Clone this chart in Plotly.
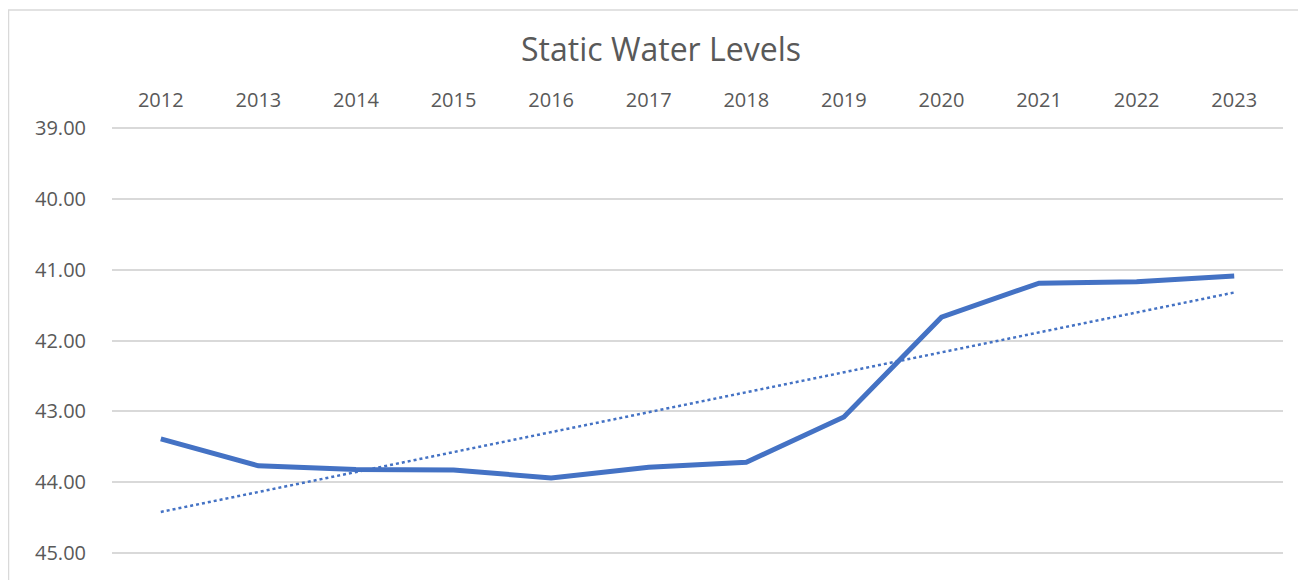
import numpy as np
import plotly.graph_objects as go

years = ["2012", "2013", "2014", "2015", "2016", "2017", "2018", "2019", "2020", "2021", "2022", "2023"]
levels = [43.39, 43.77, 43.82, 43.83, 43.94, 43.79, 43.72, 43.08, 41.67, 41.19, 41.17, 41.09]
y_ticks = [39, 40, 41, 42, 43, 44, 45]

idx = np.arange(len(years))
slope, intercept = np.polyfit(idx, levels, 1)
trend = slope * idx + intercept

fig = go.Figure()
fig.add_trace(go.Scatter(x=years, y=trend, mode="lines",
                         line=dict(color="#4472C4", width=2.5, dash="dot"),
                         showlegend=False, hoverinfo="skip"))
fig.add_trace(go.Scatter(x=years, y=levels, mode="lines",
                         line=dict(color="#4472C4", width=5),
                         showlegend=False))

# page body has an 8px margin, so the figure is offset by 8px
W, H = 1298, 572
L, R, T, B = 104, 23, 119, 26
PW, PH = W - L - R, H - T - B

fig.update_layout(
    width=W, height=H,
    margin=dict(l=L, r=R, t=T, b=B, autoexpand=False),
    paper_bgcolor="white", plot_bgcolor="white",
    font=dict(family="Open Sans, Liberation Sans, sans-serif", color="#595959", size=20),
    title=dict(text="Static Water Levels", x=653 / W, xanchor="center",
               y=1 - 42 / H, yanchor="middle",
               font=dict(size=32, color="#595959")),
    xaxis=dict(side="top", type="category", range=[-0.5, 11.5], showgrid=False, showline=False,
               zeroline=False, automargin=False,
               ticks="", ticklabelstandoff=15, tickfont=dict(size=20, color="#595959")),
    yaxis=dict(range=[45.015, 38.985], tickvals=y_ticks, tickformat=".2f", showgrid=True,
               gridcolor="#D9D9D9", gridwidth=1.5, zeroline=False, showline=False, automargin=False,
               ticks="", ticklabelstandoff=25, tickfont=dict(size=20, color="#595959")),
    shapes=[dict(type="rect", xref="paper", yref="paper",
                 x0=(0.5 - L) / PW, x1=(1297 - L) / PW, y0=(H - B - 575) / PH, y1=(H - B - 2) / PH,
                 line=dict(color="#D9D9D9", width=1.5), fillcolor="rgba(0,0,0,0)", layer="below")],
)

fig.write_html("out.html")
